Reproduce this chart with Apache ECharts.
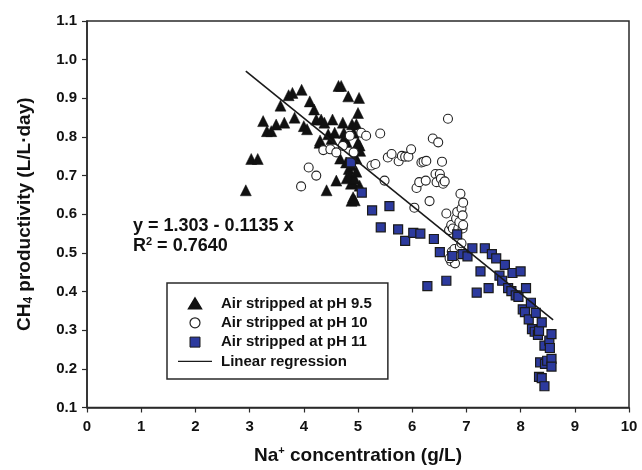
<!DOCTYPE html>
<html>
<head>
<meta charset="utf-8">
<script src="https://cdn.jsdelivr.net/npm/echarts@6/dist/echarts.min.js"></script>
<style>html,body{margin:0;padding:0;background:#fff;}#c{width:642px;height:470px;}</style>
</head>
<body>
<div id="c"></div>
<script>
// pH 9.5 (triangles)
const ph95 = [
[2.93,0.662],[3.03,0.743],[3.15,0.743],[3.25,0.841],[3.32,0.815],[3.40,0.815],[3.49,0.832],
[3.57,0.881],[3.64,0.837],[3.72,0.908],[3.79,0.914],[3.83,0.850],[3.96,0.922],[4.00,0.828],
[4.06,0.820],[4.11,0.892],[4.19,0.871],[4.23,0.845],[4.29,0.785],[4.30,0.791],[4.32,0.845],[4.38,0.837],
[4.42,0.662],[4.45,0.807],[4.51,0.795],[4.53,0.845],[4.57,0.811],[4.60,0.687],[4.64,0.932],[4.67,0.744],
[4.69,0.932],[4.72,0.837],[4.74,0.811],[4.75,0.798],[4.78,0.734],[4.79,0.787],[4.79,0.693],
[4.82,0.905],[4.83,0.717],[4.85,0.700],[4.87,0.679],[4.88,0.727],[4.88,0.635],[4.89,0.833],
[4.91,0.644],[4.91,0.681],[4.92,0.811],[4.94,0.692],[4.94,0.636],[4.97,0.833],[4.97,0.710],
[4.97,0.744],[4.98,0.777],[5.00,0.862],[5.00,0.785],[5.02,0.901],[5.03,0.674],[5.03,0.778],[5.04,0.764]
];
// pH 10 (open circles)
const ph10 = [
[3.95,0.672],[4.09,0.721],[4.23,0.700],[4.36,0.766],[4.49,0.768],[4.60,0.760],[4.72,0.777],
[4.85,0.803],[4.92,0.760],[5.06,0.811],[5.15,0.803],[5.25,0.726],[5.32,0.730],[5.41,0.809],
[5.49,0.687],[5.55,0.747],[5.62,0.756],[5.75,0.737],[5.81,0.751],[5.87,0.749],[5.93,0.749],
[5.98,0.768],[6.04,0.617],[6.08,0.668],[6.13,0.683],[6.17,0.734],[6.21,0.736],[6.26,0.738],
[6.25,0.687],[6.32,0.634],[6.38,0.796],[6.48,0.786],[6.43,0.704],[6.45,0.683],[6.51,0.704],
[6.53,0.692],[6.55,0.736],[6.57,0.679],[6.60,0.685],[6.63,0.602],[6.66,0.847],[6.68,0.559],
[6.72,0.572],[6.72,0.478],[6.73,0.503],[6.75,0.563],[6.78,0.510],[6.81,0.589],[6.83,0.606],
[6.85,0.563],[6.87,0.580],[6.88,0.516],[6.89,0.653],[6.91,0.615],[6.93,0.597],[6.94,0.630],
[6.93,0.563],[6.94,0.572],[6.79,0.473],[6.69,0.486],[6.91,0.525]
];
// pH 11 (blue squares)
const ph11 = [
[4.87,0.734],[5.07,0.656],[5.26,0.610],[5.42,0.566],[5.58,0.621],[5.74,0.561],[5.87,0.531],
[6.02,0.552],[6.15,0.550],[6.28,0.414],[6.40,0.536],[6.51,0.502],[6.63,0.428],[6.74,0.492],
[6.83,0.548],[6.93,0.497],[7.02,0.491],[7.11,0.512],[7.19,0.397],[7.26,0.452],[7.34,0.512],
[7.41,0.409],[7.47,0.497],[7.55,0.486],[7.61,0.441],[7.66,0.428],[7.71,0.469],[7.77,0.409],
[7.83,0.401],[7.85,0.448],[7.91,0.390],[7.96,0.386],[8.00,0.452],[8.04,0.354],[8.08,0.347],
[8.10,0.409],[8.15,0.328],[8.19,0.371],[8.21,0.303],[8.26,0.296],[8.28,0.345],[8.32,0.288],
[8.34,0.298],[8.36,0.217],[8.39,0.320],[8.34,0.179],[8.39,0.176],[8.44,0.155],[8.44,0.260],
[8.45,0.213],[8.49,0.221],[8.53,0.273],[8.54,0.254],[8.57,0.290],[8.57,0.226],[8.57,0.206]
];
// Linear regression endpoints
const regX = [2.93, 8.60];
const regY = [0.970, 0.327];
const xTicks = [0,1,2,3,4,5,6,7,8,9,10];
const yTicks = ['0.1','0.2','0.3','0.4','0.5','0.6','0.7','0.8','0.9','1.0','1.1'];
const seriesNames = ['Air stripped at pH 9.5','Air stripped at pH 10','Air stripped at pH 11','Linear regression'];
const eqText = ['y = 1.303 - 0.1135 x', 'R{sup|2} = 0.7640'];

const FONT = "'Liberation Sans', Arial, sans-serif";
const chart = echarts.init(document.getElementById('c'), null, {renderer:'canvas'});
const axisCol = '#2a2a2a';
chart.setOption({
  animation:false,
  backgroundColor:'#fff',
  textStyle:{fontFamily:FONT},
  grid:{left:87,right:13,top:21,bottom:58,show:true,borderColor:axisCol,borderWidth:1.5,backgroundColor:'transparent'},
  xAxis:{
    type:'value',min:0,max:10,interval:1,
    axisLine:{lineStyle:{color:axisCol,width:1.5}},
    axisTick:{show:true,length:5,lineStyle:{color:axisCol,width:1.2}},
    splitLine:{show:false},
    axisLabel:{margin:12,fontSize:15,fontWeight:'bold',color:'#111',fontFamily:FONT,
      formatter:v=>String(xTicks[Math.round(v)])},
    name:'Na{sup|+} concentration (g/L)',nameLocation:'middle',nameGap:38,
    nameTextStyle:{fontSize:19,fontWeight:'bold',color:'#111',fontFamily:FONT,
      rich:{sup:{fontSize:11,fontWeight:'bold',color:'#111',fontFamily:FONT,padding:[0,0,9,0]}}}
  },
  yAxis:{
    type:'value',min:0.1,max:1.1,interval:0.1,
    axisLine:{lineStyle:{color:axisCol,width:1.5}},
    axisTick:{show:true,length:5,lineStyle:{color:axisCol,width:1.2}},
    splitLine:{show:false},
    axisLabel:{margin:10,fontSize:15,fontWeight:'bold',color:'#111',fontFamily:FONT,
      formatter:v=>yTicks[Math.round((v-0.1)*10)]},
    name:'CH{sub|4} productivity (L/L·day)',nameLocation:'middle',nameGap:52,nameRotate:90,
    nameTextStyle:{fontSize:19,fontWeight:'bold',color:'#111',fontFamily:FONT,
      rich:{sub:{fontSize:12,fontWeight:'bold',color:'#111',fontFamily:FONT,padding:[9,0,0,0]}}}
  },
  legend:{
    orient:'vertical',left:167,top:283,
    data:[
      {name:seriesNames[0],icon:'path://M6,0 L12,10 L0,10 Z'},
      {name:seriesNames[1],icon:'circle',itemStyle:{color:'#fff',borderColor:'#222',borderWidth:1.2}},
      {name:seriesNames[2],icon:'path://M0,0 L9,0 L9,9 L0,9 Z',itemStyle:{color:'#2c3a9e',borderColor:'#1a1a1a',borderWidth:1}},
      {name:seriesNames[3],icon:'path://M0,0 L34,0 L34,1.4 L0,1.4 Z',itemStyle:{color:'#1a1a1a'}}
    ],
    symbolKeepAspect:true,
    borderColor:axisCol,borderWidth:1.5,backgroundColor:'#fff',
    padding:[13,16,10,11],
    itemWidth:34,itemHeight:10,itemGap:4.3,
    textStyle:{fontSize:15,fontWeight:'bold',color:'#111',fontFamily:FONT,lineHeight:10,padding:[0,0,0,4]}
  },
  graphic:[
    {type:'text',left:133,top:217,style:{text:eqText[0],fontSize:18,fontWeight:'bold',fill:'#111',fontFamily:FONT}},
    {type:'text',left:133,top:236,style:{text:eqText[1],fontSize:18,fontWeight:'bold',fill:'#111',fontFamily:FONT,
      rich:{sup:{fontSize:11,fontWeight:'bold',fill:'#111',fontFamily:FONT,padding:[0,0,9,0]}}}}
  ],
  series:[
    {name:seriesNames[0],type:'scatter',data:ph95,symbol:'triangle',symbolSize:11,
      itemStyle:{color:'#111',borderColor:'#111',borderWidth:0.5,opacity:1},z:2},
    {name:seriesNames[1],type:'scatter',data:ph10,symbol:'circle',symbolSize:9,
      itemStyle:{color:'#fff',borderColor:'#222',borderWidth:1.1,opacity:1},z:3},
    {name:seriesNames[2],type:'scatter',data:ph11,symbol:'rect',symbolSize:9,
      itemStyle:{color:'#2c3a9e',borderColor:'#1a1a1a',borderWidth:1.2,opacity:1},z:4},
    {name:seriesNames[3],type:'line',data:regX.map((x,i)=>[x,regY[i]]),symbol:'none',showSymbol:false,
      lineStyle:{color:'#1a1a1a',width:1.6},itemStyle:{color:'#1a1a1a'},z:5}
  ]
});
</script>
</body>
</html>
